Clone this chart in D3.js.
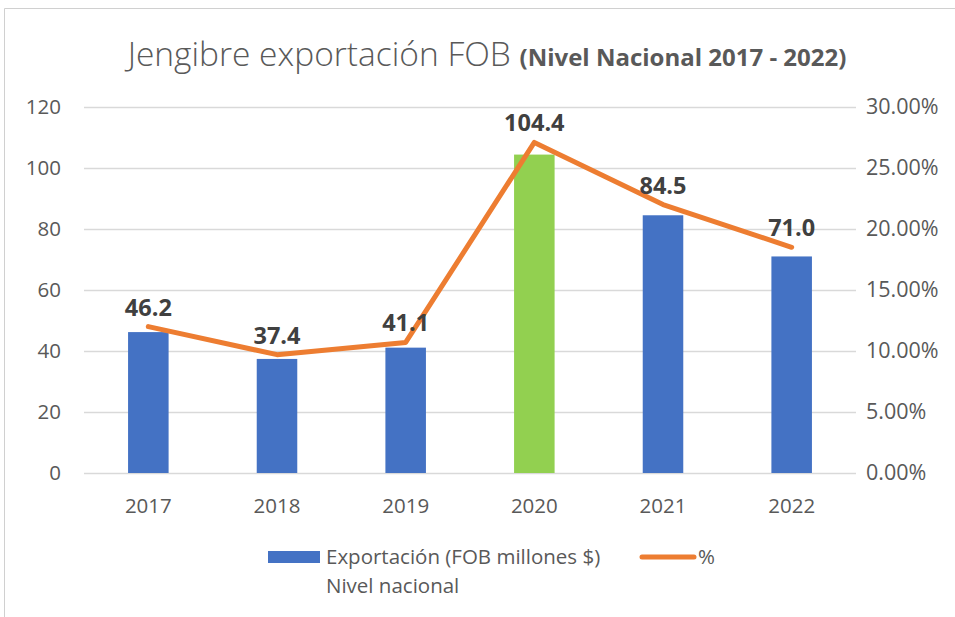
<!DOCTYPE html>
<html>
<head>
<meta charset="utf-8">
<script src="https://cdn.jsdelivr.net/npm/d3@7"></script>
<style>
  body { margin: 0; background: #fff; }
  text { font-family: "Open Sans", Lato, sans-serif; }
</style>
</head>
<body>
<div id="chart"></div>
<script>
// data
var years = ["2017", "2018", "2019", "2020", "2021", "2022"];
var exportFob = [46.2, 37.4, 41.1, 104.4, 84.5, 71.0];
var sharePct = [12.0, 9.7, 10.7, 27.1, 22.0, 18.5];
var leftTicks = [0, 20, 40, 60, 80, 100, 120];
var rightTicks = [0, 5, 10, 15, 20, 25, 30];

var width = 955, height = 617;
var margin = {top: 107, right: 99, bottom: 144, left: 84};
var plotW = width - margin.left - margin.right,
    plotH = height - margin.top - margin.bottom;

var svg = d3.select("#chart").append("svg")
  .attr("width", width)
  .attr("height", height);

// outer frame (only top and left visible)
svg.append("path")
  .attr("d", "M4.5,617 L4.5,8.5 L955,8.5")
  .attr("fill", "none")
  .attr("stroke", "#d0d0d0")
  .attr("stroke-width", 1);

var g = svg.append("g")
  .attr("transform", "translate(" + margin.left + "," + margin.top + ")");

// scales
var x = d3.scaleBand()
  .domain(years)
  .range([0, plotW])
  .paddingInner(0.685)
  .paddingOuter(0.3425);

var y = d3.scaleLinear().domain([0, 120]).range([plotH, 0]);
var y2 = d3.scaleLinear().domain([0, 30]).range([plotH, 0]);

// gridlines
g.selectAll(".grid").data(leftTicks).enter()
  .append("line")
  .attr("class", "grid")
  .attr("x1", 0).attr("x2", plotW)
  .attr("y1", function(d) { return Math.round(y(d)) + 0.5; })
  .attr("y2", function(d) { return Math.round(y(d)) + 0.5; })
  .attr("stroke", "#d9d9d9")
  .attr("stroke-width", 1.3);

// axes
var yAxis = d3.axisLeft(y).tickValues(leftTicks).tickSize(0).tickPadding(23);
var y2Axis = d3.axisRight(y2).tickValues(rightTicks).tickSize(0).tickPadding(10)
  .tickFormat(function(d) { return d.toFixed(2) + "%"; });
var xAxis = d3.axisBottom(x).tickSize(0).tickPadding(25);

function styleAxis(sel) {
  sel.select(".domain").remove();
  sel.selectAll("text")
    .attr("fill", "#595959")
    .style("font-size", "20.5px");
}

g.append("g").call(yAxis).call(styleAxis);
g.append("g").attr("transform", "translate(" + plotW + ",0)").call(y2Axis).call(styleAxis)
  .selectAll("text").style("font-size", "21.5px");
g.append("g").attr("transform", "translate(0," + plotH + ")").call(xAxis).call(styleAxis);

// bars
g.selectAll(".bar").data(exportFob).enter()
  .append("rect")
  .attr("class", "bar")
  .attr("x", function(d, i) { return x(years[i]); })
  .attr("width", x.bandwidth())
  .attr("y", function(d) { return y(d); })
  .attr("height", function(d) { return plotH - y(d); })
  .attr("fill", function(d, i) { return years[i] === "2020" ? "#92d050" : "#4472c4"; });

// line
var line = d3.line()
  .x(function(d, i) { return x(years[i]) + x.bandwidth() / 2; })
  .y(function(d) { return y2(d); });

g.append("path")
  .datum(sharePct)
  .attr("d", line)
  .attr("fill", "none")
  .attr("stroke", "#ed7d31")
  .attr("stroke-width", 5)
  .attr("stroke-linejoin", "round")
  .attr("stroke-linecap", "round");

// data labels above line points
g.selectAll(".lbl").data(exportFob).enter()
  .append("text")
  .attr("class", "lbl")
  .attr("x", function(d, i) { return x(years[i]) + x.bandwidth() / 2; })
  .attr("y", function(d, i) { return y2(sharePct[i]) - 11; })
  .attr("text-anchor", "middle")
  .attr("fill", "#404040")
  .style("font-size", "23.5px")
  .style("font-weight", "bold")
  .text(function(d) { return d.toFixed(1); });

// title
var title = svg.append("text")
  .attr("x", 487)
  .attr("y", 66)
  .attr("text-anchor", "middle")
  .attr("fill", "#595959");
title.append("tspan")
  .style("font-size", "33.5px")
  .style("font-weight", "300")
  .text("Jengibre exportación FOB ");
title.append("tspan")
  .style("font-size", "24px")
  .style("font-weight", "bold")
  .text("(Nivel Nacional 2017 - 2022)");

// legend
var leg = svg.append("g");
leg.append("rect")
  .attr("x", 268).attr("y", 551)
  .attr("width", 52).attr("height", 12)
  .attr("fill", "#4472c4");
leg.append("text")
  .attr("x", 326).attr("y", 564)
  .attr("fill", "#595959")
  .style("font-size", "20.5px")
  .text("Exportación (FOB millones $)");
leg.append("text")
  .attr("x", 326).attr("y", 593)
  .attr("fill", "#595959")
  .style("font-size", "20.5px")
  .text("Nivel nacional");
leg.append("line")
  .attr("x1", 642).attr("x2", 694)
  .attr("y1", 557).attr("y2", 557)
  .attr("stroke", "#ed7d31")
  .attr("stroke-width", 5)
  .attr("stroke-linecap", "round");
leg.append("text")
  .attr("x", 698).attr("y", 564)
  .attr("fill", "#595959")
  .style("font-size", "20.5px")
  .text("%");
</script>
</body>
</html>
